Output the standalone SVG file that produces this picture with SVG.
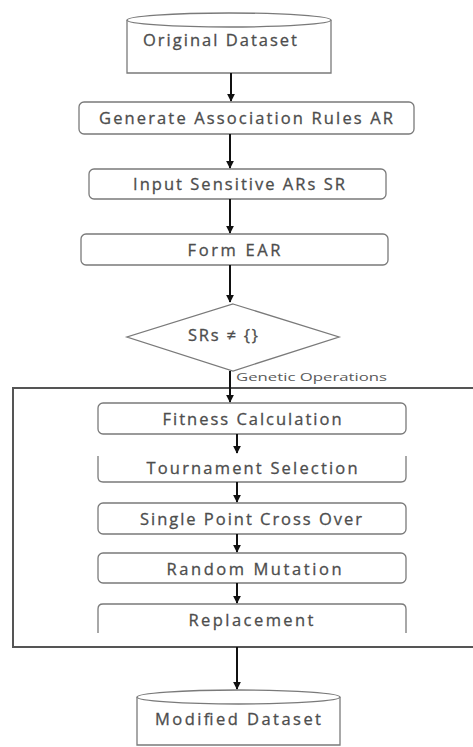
<svg xmlns="http://www.w3.org/2000/svg" width="473" height="747" viewBox="0 0 473 747">
<style>
.box{fill:#fff;stroke:#7a7a7a;stroke-width:1.3}
.edge{fill:none;stroke:#7a7a7a;stroke-width:1.3}
.lbl{font-family:"Open Sans","Liberation Sans",sans-serif;font-size:16.5px;fill:#4d4d4d;text-anchor:middle;stroke:#4d4d4d;stroke-width:0.3}
.small{font-family:"Open Sans","Liberation Sans",sans-serif;font-size:11px;fill:#5a5a5a}
.conn{stroke:#111;stroke-width:2;fill:none;marker-end:url(#ah)}
</style>
<defs>
<marker id="ah" viewBox="0 0 10 10" refX="9" refY="5" markerWidth="4" markerHeight="4" orient="auto" markerUnits="strokeWidth">
<path d="M0,0 L10,5 L0,10 z" fill="#111"/>
</marker>
</defs>
<rect width="473" height="747" fill="#fff"/>

<g id="genetic-operations">
<path d="M480,388 H13 V647 H480" fill="none" stroke="#555" stroke-width="2"/>
<text class="small" x="236" y="381" textLength="151" lengthAdjust="spacingAndGlyphs">Genetic Operations</text>
</g>

<g id="original-dataset">
<path class="box" d="M127,20 V73 H331 V20"/>
<ellipse class="box" cx="229" cy="20" rx="102" ry="7"/>
<text class="lbl" x="220" y="46" textLength="154" lengthAdjust="spacing">Original Dataset</text>
</g>

<g id="generate-ar">
<rect class="box" x="79" y="102" width="335" height="32" rx="5"/>
<text class="lbl" x="246" y="124" textLength="294" lengthAdjust="spacing">Generate Association Rules AR</text>
</g>

<g id="input-sr">
<rect class="box" x="89" y="169" width="297" height="30" rx="5"/>
<text class="lbl" x="239" y="190" textLength="212" lengthAdjust="spacing">Input Sensitive ARs SR</text>
</g>

<g id="form-ear">
<rect class="box" x="81" y="234" width="307" height="31" rx="5"/>
<text class="lbl" x="234" y="256" textLength="93" lengthAdjust="spacing">Form EAR</text>
</g>

<g id="decision">
<polygon class="box" points="233,304 339,337 233,371 127,337"/>
<text class="lbl" x="223" y="341" textLength="70" lengthAdjust="spacing">SRs ≠ {}</text>
</g>

<g id="fitness">
<rect class="box" x="98" y="403" width="308" height="31" rx="5"/>
<text class="lbl" x="252" y="425" textLength="179" lengthAdjust="spacing">Fitness Calculation</text>
</g>

<g id="tournament">
<path class="edge" d="M98,456 V477 Q98,482 103,482 H401 Q406,482 406,477 V456"/>
<text class="lbl" x="252" y="474" textLength="211" lengthAdjust="spacing">Tournament Selection</text>
</g>

<g id="crossover">
<rect class="box" x="98" y="503" width="308" height="31" rx="5"/>
<text class="lbl" x="251" y="525" textLength="222" lengthAdjust="spacing">Single Point Cross Over</text>
</g>

<g id="mutation">
<rect class="box" x="98" y="553" width="308" height="30" rx="5"/>
<text class="lbl" x="254" y="575" textLength="175" lengthAdjust="spacing">Random Mutation</text>
</g>

<g id="replacement">
<path class="edge" d="M98,633 V609 Q98,604 103,604 H401 Q406,604 406,609 V633"/>
<text class="lbl" x="251" y="626" textLength="125" lengthAdjust="spacing">Replacement</text>
</g>

<g id="modified-dataset">
<path class="box" d="M137,697 V745 H340 V697"/>
<ellipse class="box" cx="238.5" cy="697" rx="101.5" ry="7"/>
<text class="lbl" x="238" y="725" textLength="166" lengthAdjust="spacing">Modified Dataset</text>
</g>

<g id="connectors">
<line class="conn" x1="231" y1="73" x2="231" y2="101"/>
<line class="conn" x1="230" y1="134" x2="230" y2="168"/>
<line class="conn" x1="230" y1="199" x2="230" y2="233"/>
<line class="conn" x1="230" y1="265" x2="230" y2="302"/>
<line class="conn" x1="230" y1="371" x2="230" y2="402"/>
<line class="conn" x1="237" y1="434" x2="237" y2="453"/>
<line class="conn" x1="237" y1="482" x2="237" y2="502"/>
<line class="conn" x1="237" y1="534" x2="237" y2="552"/>
<line class="conn" x1="237" y1="583" x2="237" y2="603"/>
<line class="conn" x1="237" y1="647" x2="237" y2="689"/>
</g>
</svg>
